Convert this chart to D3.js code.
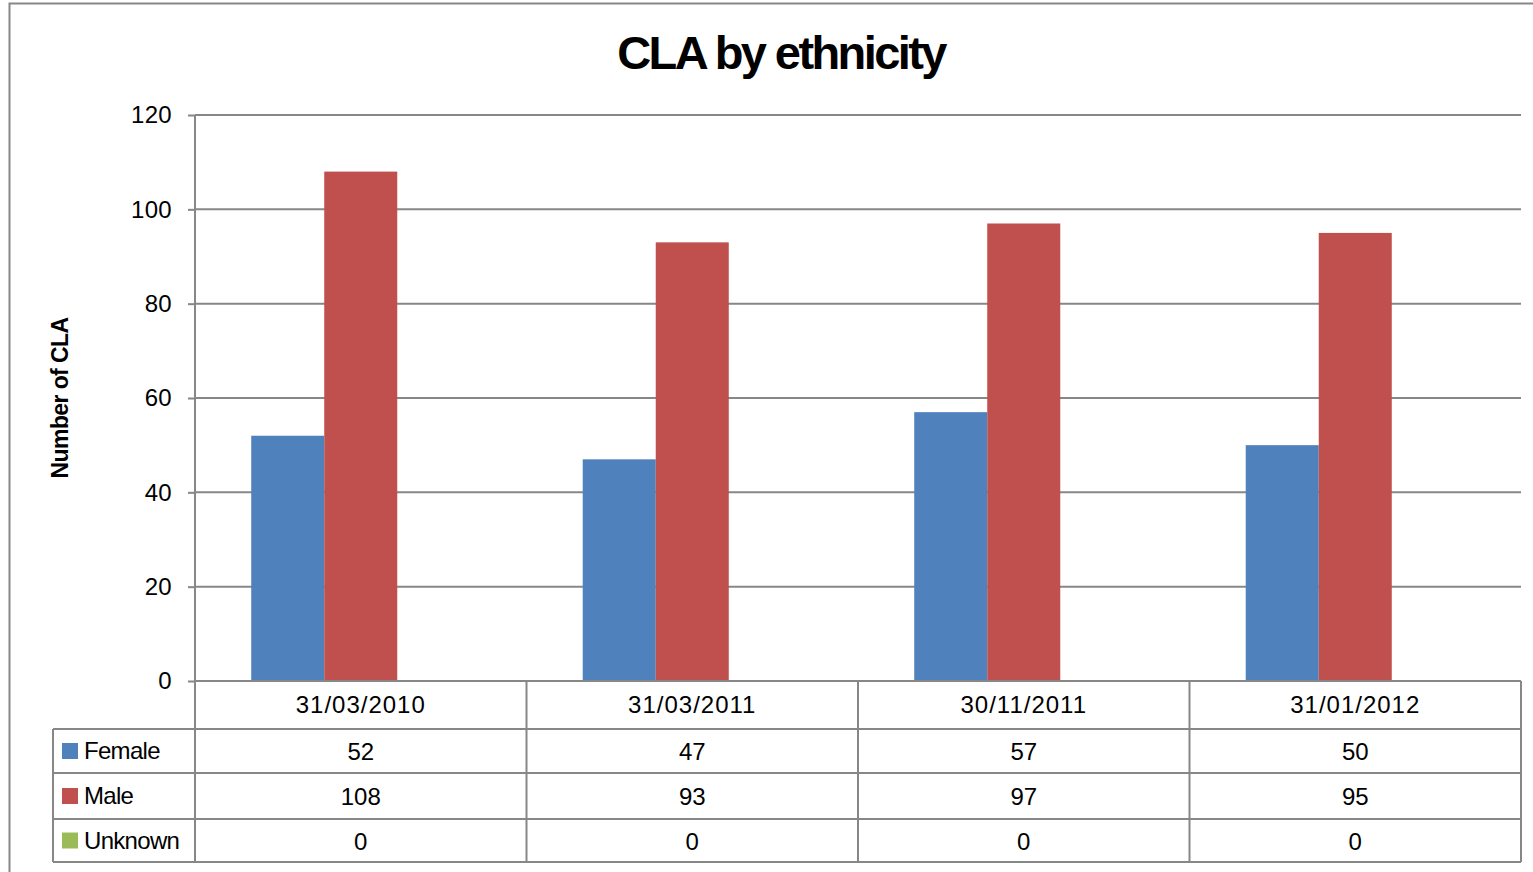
<!DOCTYPE html>
<html>
<head>
<meta charset="utf-8">
<script src="https://cdn.jsdelivr.net/npm/d3@7.9.0/dist/d3.min.js"></script>
<style>
  html, body { margin: 0; padding: 0; background: #fff; }
  svg { display: block; font-family: "Liberation Sans", Arial, sans-serif; }
</style>
</head>
<body>
<svg id="chart" width="1533" height="872"></svg>
<script>
// ─────────── DATA ───────────
const dates = ["31/03/2010", "31/03/2011", "30/11/2011", "31/01/2012"];
const seriesNames = ["Female", "Male", "Unknown"];
const female = [52, 47, 57, 50];
const male = [108, 93, 97, 95];
const unknown = [0, 0, 0, 0];
const yTicks = [0, 20, 40, 60, 80, 100, 120];

const seriesValues = [female, male, unknown];
const colors = ["#4F81BD", "#C0504D", "#9BBB59"];

// ─────────── LAYOUT ───────────
const plot = { left: 195, right: 1521, top: 115, bottom: 681 };
const rowH = [48, 44, 46, 43];   // header row, then one per series
const legendLeft = 53;
const gridColor = "#878787";

const svg = d3.select("#chart");

// outer frame
svg.append("rect")
  .attr("x", 9.5).attr("y", 3.5)
  .attr("width", 1540).attr("height", 880)
  .attr("fill", "none").attr("stroke", gridColor).attr("stroke-width", 2);

// title
svg.append("text")
  .attr("x", 781).attr("y", 69)
  .attr("text-anchor", "middle")
  .attr("font-size", 47).attr("font-weight", "bold")
  .attr("letter-spacing", -2.6)
  .text("CLA by ethnicity");

// scales
const x = d3.scaleBand().domain(dates).range([plot.left, plot.right]);
const y = d3.scaleLinear().domain([0, 120]).range([plot.bottom, plot.top]);
const inner = d3.scaleBand().domain(seriesNames)
  .range([0, x.bandwidth()]).paddingOuter(0.77).paddingInner(0);

// gridlines + y ticks
const yAxis = svg.append("g").attr("transform", `translate(${plot.left},0)`)
  .call(d3.axisLeft(y).tickValues(yTicks).tickSize(7).tickPadding(16));
yAxis.select(".domain").remove();
yAxis.selectAll(".tick line").attr("stroke", gridColor).attr("stroke-width", 2);
yAxis.selectAll(".tick text")
  .attr("font-size", 24).attr("fill", "#000").attr("letter-spacing", 0.3)
  .attr("font-family", "Liberation Sans, Arial, sans-serif");

svg.append("g").selectAll("line").data(yTicks.filter(d => d > 0)).join("line")
  .attr("x1", plot.left).attr("x2", plot.right)
  .attr("y1", d => y(d)).attr("y2", d => y(d))
  .attr("stroke", gridColor).attr("stroke-width", 2);

// y axis title
svg.append("text")
  .attr("transform", "translate(68,398) rotate(-90)")
  .attr("text-anchor", "middle")
  .attr("font-size", 23).attr("font-weight", "bold")
  .attr("letter-spacing", -0.6)
  .text("Number of CLA");

// bars
seriesNames.forEach((name, si) => {
  svg.append("g").selectAll("rect").data(seriesValues[si]).join("rect")
    .attr("x", (d, i) => x(dates[i]) + inner(name))
    .attr("width", inner.bandwidth())
    .attr("y", d => y(d))
    .attr("height", d => y(0) - y(d))
    .attr("fill", colors[si]);
});

// left axis line
svg.append("line")
  .attr("x1", plot.left).attr("x2", plot.left)
  .attr("y1", plot.top).attr("y2", plot.bottom)
  .attr("stroke", gridColor).attr("stroke-width", 2);

// ─────────── DATA TABLE ───────────
const rowY = [plot.bottom];
rowH.forEach(h => rowY.push(rowY[rowY.length - 1] + h));
const tableBottom = rowY[rowY.length - 1];
const table = svg.append("g").attr("stroke", gridColor).attr("stroke-width", 2);

// horizontal lines
table.append("line").attr("x1", plot.left).attr("x2", plot.right)
  .attr("y1", rowY[0]).attr("y2", rowY[0]);
rowY.slice(1).forEach(yy => {
  table.append("line").attr("x1", legendLeft).attr("x2", plot.right)
    .attr("y1", yy).attr("y2", yy);
});
// vertical lines
table.append("line").attr("x1", legendLeft).attr("x2", legendLeft)
  .attr("y1", rowY[1]).attr("y2", tableBottom);
dates.forEach(d => {
  table.append("line").attr("x1", x(d)).attr("x2", x(d))
    .attr("y1", rowY[0]).attr("y2", tableBottom);
});
table.append("line").attr("x1", plot.right).attr("x2", plot.right)
  .attr("y1", rowY[0]).attr("y2", tableBottom);

// header labels
svg.append("g").selectAll("text").data(dates).join("text")
  .attr("x", d => x(d) + x.bandwidth() / 2)
  .attr("y", rowY[0] + rowH[0] / 2 + 8)
  .attr("text-anchor", "middle")
  .attr("font-size", 24).attr("letter-spacing", 1)
  .text(d => d);

// series rows
seriesNames.forEach((name, si) => {
  const top = rowY[si + 1], h = rowH[si + 1];
  svg.append("rect")
    .attr("x", 62).attr("y", top + h / 2 - 8)
    .attr("width", 16).attr("height", 16)
    .attr("fill", colors[si]);
  svg.append("text")
    .attr("x", 84).attr("y", top + h / 2 + 8)
    .attr("font-size", 24).attr("letter-spacing", -0.7)
    .text(name);
  svg.append("g").selectAll("text").data(seriesValues[si]).join("text")
    .attr("x", (d, i) => x(dates[i]) + x.bandwidth() / 2)
    .attr("y", top + h / 2 + 9)
    .attr("text-anchor", "middle")
    .attr("font-size", 24)
    .text(d => d);
});
</script>
</body>
</html>
